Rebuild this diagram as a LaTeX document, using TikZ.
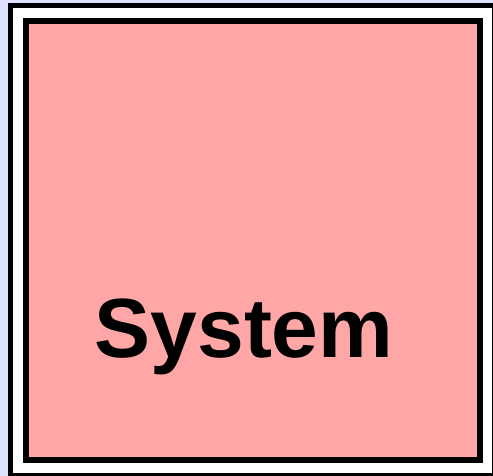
\documentclass[tikz,border=0pt]{standalone}
\usepackage{fontspec}
\setmainfont{Liberation Sans}
\usetikzlibrary{positioning}
\definecolor{bgblue}{HTML}{E0E0FF}
\definecolor{syspink}{HTML}{FFA6A6}
\tikzset{
  frame/.style={draw=black, line width=5pt, fill=white},
  sysbox/.style={draw=black, line width=6pt, fill=syspink, minimum width=454.3pt, minimum height=439pt, inner sep=0pt},
  syslabel/.style={font=\fontsize{84}{84}\selectfont\bfseries, anchor=base, inner sep=0pt}
}
\begin{document}
\begin{tikzpicture}[x=1pt,y=-1pt]
  \fill[bgblue] (0,0) rectangle (493,476);
  \useasboundingbox (0,0) rectangle (493,476);
  % outer frame
  \draw[frame] (10.5,5.8) rectangle (494,475);
  % system box
  \node[sysbox] (system) at (253.15,240.5) {};
  \node[syslabel] (systext) at (244,357) {System};
\end{tikzpicture}
\end{document}
